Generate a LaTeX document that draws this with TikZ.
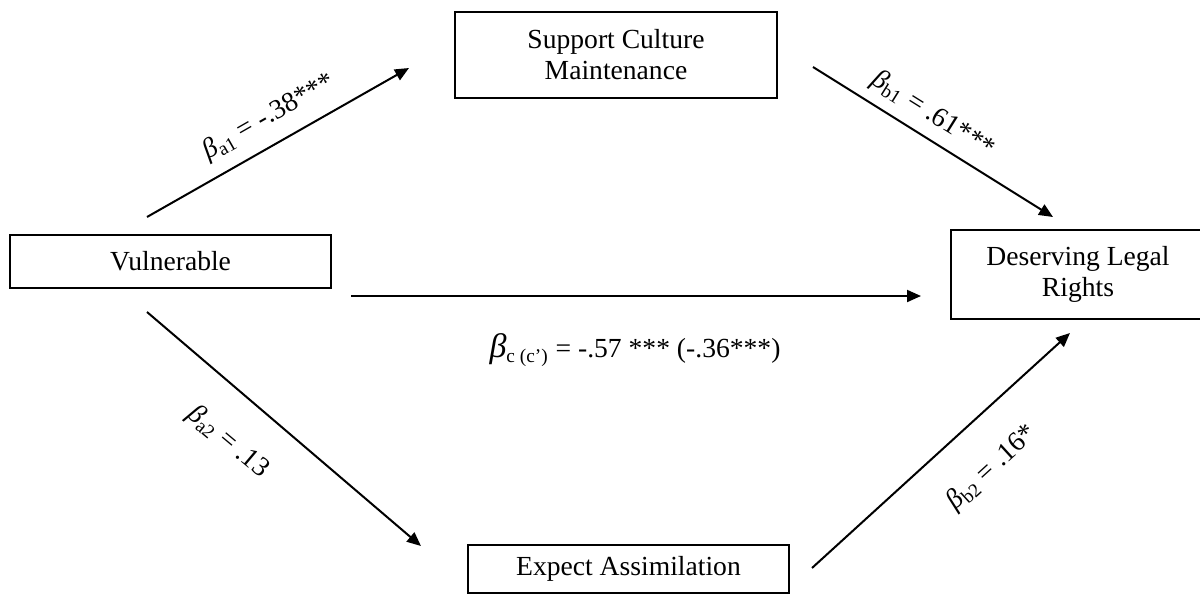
\documentclass[tikz,border=0pt]{standalone}
\usepackage{fontspec}
\setmainfont{Liberation Serif}
\usetikzlibrary{arrows.meta}
\begin{document}
\begin{tikzpicture}[x=0.5pt,y=-0.5pt,
  box/.style={draw, line width=1pt, align=center, inner sep=0pt,
    font=\fontsize{13.8}{15.5}\selectfont},
  arr/.style={line width=1pt, -{Triangle[length=7pt,width=6pt]}},
  lab/.style={inner sep=0pt, font=\fontsize{13.8}{15}\selectfont}]
\useasboundingbox (0,0) rectangle (1200,595);
\clip (0,0) rectangle (1200,595);
% boxes
\node[box, minimum width=161pt, minimum height=43pt] (scm) at (616,55) {Support Culture\\Maintenance};
\node[box, minimum width=160.5pt, minimum height=26.5pt] (vul) at (170.5,261.5) {Vulnerable};
\node[box, minimum width=127pt, minimum height=44.5pt] (dlr) at (1078,274.5) {Deserving Legal\\Rights};
\node[box, minimum width=160.5pt, minimum height=24pt] (ea) at (628.5,569) {Expect Assimilation};
% arrow end points
\coordinate (a1s) at (147,217);  \coordinate (a1e) at (409,68);
\coordinate (b1s) at (813,67);   \coordinate (b1e) at (1053,217);
\coordinate (cs)  at (351,296);  \coordinate (ce)  at (921,296);
\coordinate (a2s) at (147,312);  \coordinate (a2e) at (421,546);
\coordinate (b2s) at (812,568);  \coordinate (b2e) at (1070,333);
% connectors
\draw[arr] (a1s) -- (a1e);
\draw[arr] (b1s) -- (b1e);
\draw[arr] (cs) -- (ce);
\draw[arr] (a2s) -- (a2e);
\draw[arr] (b2s) -- (b2e);
% labels
\node[lab, rotate=29.7] (la1) at (269,117) {\textit{β}\textsubscript{a1} = -.38***};
\node[lab, rotate=-32] (lb1) at (933,115) {\textit{β}\textsubscript{b1} = .61***};
\node[lab] (lc) at (635,350) {{\fontsize{17}{17}\selectfont\textit{β}}\textsubscript{c (c’)} = -.57 *** (-.36***)};
\node[lab, rotate=-40] (la2) at (228,442) {\textit{β}\textsubscript{a2} = .13};
\node[lab, rotate=42.4] (lb2) at (992,468) {\textit{β}\textsubscript{b2} = .16*};
\end{tikzpicture}
\end{document}
